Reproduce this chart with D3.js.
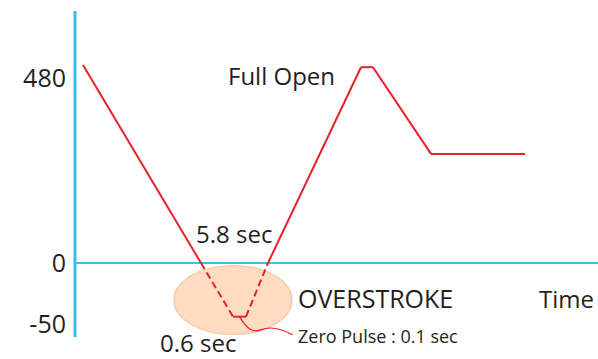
<!DOCTYPE html>
<html>
<head>
<meta charset="utf-8">
<script src="https://cdn.jsdelivr.net/npm/d3@7"></script>
<style>
  html, body { margin: 0; padding: 0; background: #ffffff; }
  svg { display: block; }
  text { font-family: "Open Sans", "Liberation Sans", sans-serif; fill: #231f20; }
</style>
</head>
<body>
<script>
// Valve opening profile over time (schematic units)
const times  = [1.6, 25.2, 31.6, 34.2, 38.6, 57.2, 59.6, 71.2, 90];
const values = [514, 0, -44, -44, 0, 508, 508, 283, 283];
const yTicks = [-50, 0, 480];

const width = 598, height = 359;
const axisX = 75, zeroTop = 11, axisBottom = 337;

const blue = "#38bdf0", red = "#e8202a";

const svg = d3.select("body").append("svg")
  .attr("width", width).attr("height", height);

// Time axis in schematic units; value axis is piecewise so the
// overstroke region below zero is readable.
const x = d3.scaleLinear().domain([0, 100]).range([axisX, axisX + 500]);
const y = d3.scaleLinear().domain([-50, 0, 480]).range([324, 263, 78]);

// Overstroke highlight
svg.append("ellipse")
  .attr("cx", x(31.6)).attr("cy", 300)
  .attr("rx", 59).attr("ry", 34.5)
  .attr("fill", "#fddcc2")
  .attr("stroke", "#f7c69c")
  .attr("stroke-width", 1.2);

// Zero line (time axis)
svg.append("line")
  .attr("x1", axisX).attr("x2", width)
  .attr("y1", y(0)).attr("y2", y(0))
  .attr("stroke", blue).attr("stroke-width", 2);

// Value axis
svg.append("line")
  .attr("x1", axisX).attr("x2", axisX)
  .attr("y1", zeroTop).attr("y2", axisBottom)
  .attr("stroke", blue).attr("stroke-width", 3);

const yAxis = svg.append("g")
  .attr("transform", `translate(${axisX},0)`)
  .call(d3.axisLeft(y).tickValues(yTicks).tickSize(0).tickPadding(9)
    .tickFormat(d => String(d)));
yAxis.select(".domain").remove();
yAxis.selectAll("text")
  .attr("font-size", 25)
  .attr("font-family", "\"Open Sans\", sans-serif")
  .attr("fill", "#231f20");

// Profile line: solid above zero, dashed while ramping below zero
const pts = times.map((t, i) => [t, values[i]]);
const seg = d3.line().x(d => x(d[0])).y(d => y(d[1]));
for (let i = 0; i < pts.length - 1; i++) {
  const a = pts[i], b = pts[i + 1];
  const ramp = (a[1] < 0) !== (b[1] < 0) || (a[1] === 0 && b[1] < 0) || (a[1] < 0 && b[1] === 0);
  svg.append("path")
    .attr("d", seg([a, b]))
    .attr("fill", "none")
    .attr("stroke", red)
    .attr("stroke-width", 2)
    .attr("stroke-linejoin", "miter")
    .attr("stroke-dasharray", ramp ? "7,4" : null);
}

// Leader from the zero pulse to its note
const fx = (x(times[2]) + x(times[3])) / 2, fy = y(values[2]);
svg.append("path")
  .attr("d", `M${fx},${fy} C${fx + 6},${fy + 10} ${fx + 12},${fy + 17} ${fx + 22},${fy + 13} S${fx + 42},${fy + 12} ${fx + 53},${fy + 18}`)
  .attr("fill", "none")
  .attr("stroke", red)
  .attr("stroke-width", 1.2);

// Annotations
const labels = [
  { t: "Full Open", x: 228, y: 85, s: 24 },
  { t: "5.8 sec", x: 196, y: 243, s: 24 },
  { t: "0.6 sec", x: 160, y: 352, s: 24 },
  { t: "OVERSTROKE", x: 298, y: 308, s: 25 },
  { t: "Time", x: 539, y: 308, s: 24 },
  { t: "Zero Pulse : 0.1 sec", x: 298, y: 343, s: 18 }
];
svg.selectAll("text.note").data(labels).join("text")
  .attr("class", "note")
  .attr("x", d => d.x).attr("y", d => d.y)
  .attr("font-size", d => d.s)
  .text(d => d.t);
</script>
</body>
</html>
